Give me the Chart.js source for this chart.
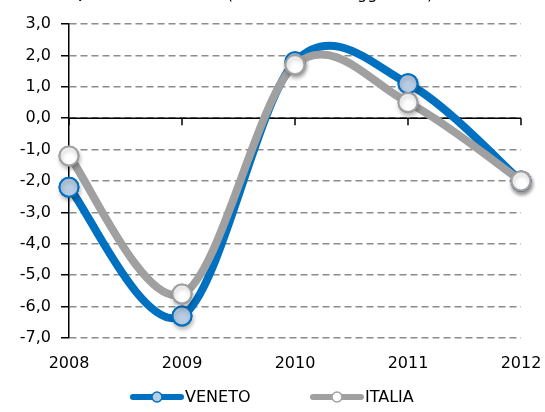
<!DOCTYPE html>
<html>
<head>
<meta charset="utf-8">
<script src="https://cdn.jsdelivr.net/npm/chart.js@4/dist/chart.umd.min.js"></script>
<style>
  html, body { margin: 0; padding: 0; background: #fff; }
  #wrap { width: 545px; height: 412px; position: relative; }
</style>
</head>
<body>
<div id="wrap"><canvas id="chart" width="545" height="412"></canvas></div>
<script>
// --- data ---
const years = ['2008', '2009', '2010', '2011', '2012'];
const veneto = [-2.2, -6.3, 1.8, 1.1, -2.0];
const italia = [-1.2, -5.6, 1.7, 0.5, -2.0];
const yTicks = [3, 2, 1, 0, -1, -2, -3, -4, -5, -6, -7];

const titleBold = 'Pil reale, Veneto e Italia ';
const titleNormal = '(var. % su dati aggiustati)';

const FONT = '"DejaVu Sans", Verdana, sans-serif';
const BLUE = '#0070C0';
const GREY = '#A0A0A0';

// Excel style smoothing (catmull-rom, 1/6 of the chord between neighbours)
const excelSmooth = {
    id: 'excelSmooth',
    beforeDatasetsDraw(chart) {
        chart.data.datasets.forEach((ds, di) => {
            const meta = chart.getDatasetMeta(di);
            const pts = meta.data;
            for (let i = 0; i < pts.length; i++) {
                const prev = pts[i - 1] || pts[i];
                const next = pts[i + 1] || pts[i];
                const dx = (next.x - prev.x) / 6;
                const dy = (next.y - prev.y) / 6;
                pts[i].cp1x = pts[i].x - dx;
                pts[i].cp1y = pts[i].y - dy;
                pts[i].cp2x = pts[i].x + dx;
                pts[i].cp2y = pts[i].y + dy;
            }
            meta.dataset._pointsUpdated = true;
        });
    },
    // markers again, with a soft shadow like the original
    afterDatasetDraw(chart, args) {
        const ctx = chart.ctx;
        ctx.save();
        ctx.shadowColor = 'rgba(0,0,0,0.25)';
        ctx.shadowBlur = 4;
        ctx.shadowOffsetX = 1;
        ctx.shadowOffsetY = 3;
        args.meta.data.forEach(p => p.draw(ctx));
        ctx.restore();
    }
};

// zero line with tick marks + partly cut title + line style legend
const extras = {
    id: 'extras',
    beforeDatasetsDraw(chart) {
        const ctx = chart.ctx;
        const x = chart.scales.x;
        const y = chart.scales.y;
        const y0 = y.getPixelForValue(0);
        ctx.save();
        ctx.strokeStyle = '#000';
        ctx.lineWidth = 1.5;
        ctx.setLineDash([]);
        ctx.beginPath();
        ctx.moveTo(chart.chartArea.left, y0);
        ctx.lineTo(chart.chartArea.right, y0);
        years.forEach((_, i) => {
            const px = x.getPixelForValue(i);
            ctx.moveTo(px, y0);
            ctx.lineTo(px, y0 + 7);
        });
        ctx.stroke();
        ctx.restore();
    },
    afterDraw(chart) {
        const ctx = chart.ctx;
        ctx.save();
        // title, mostly off the top edge
        ctx.fillStyle = '#000';
        ctx.textBaseline = 'alphabetic';
        ctx.font = 'bold 16px ' + FONT;
        ctx.fillText(titleBold, 4, -1);
        const w = ctx.measureText(titleBold).width;
        ctx.font = '16px ' + FONT;
        ctx.fillText(titleNormal, 4 + w, -1);

        // legend
        const items = [
            { label: 'VENETO', color: BLUE, fill: '#B8CCE4', x: 130 },
            { label: 'ITALIA', color: GREY, fill: '#FFFFFF', x: 310 }
        ];
        const ly = 397;
        items.forEach(it => {
            ctx.strokeStyle = it.color;
            ctx.lineWidth = 6;
            ctx.lineCap = 'round';
            ctx.beginPath();
            ctx.moveTo(it.x + 3, ly);
            ctx.lineTo(it.x + 51, ly);
            ctx.stroke();
            ctx.beginPath();
            ctx.arc(it.x + 27, ly, 5, 0, Math.PI * 2);
            ctx.fillStyle = it.fill;
            ctx.fill();
            ctx.lineWidth = 1.5;
            ctx.stroke();
            ctx.fillStyle = '#000';
            ctx.font = '16px ' + FONT;
            ctx.textBaseline = 'middle';
            ctx.fillText(it.label, it.x + 55, ly + 1);
        });
        ctx.restore();
    }
};

new Chart(document.getElementById('chart'), {
    type: 'line',
    data: {
        labels: years,
        datasets: [
            {
                label: 'VENETO',
                data: veneto,
                borderColor: BLUE,
                borderWidth: 8,
                tension: 0.4,
                pointRadius: 9.5,
                pointBorderWidth: 2,
                pointBackgroundColor: '#B8CCE4',
                pointBorderColor: BLUE,
                clip: false,
                order: 2
            },
            {
                label: 'ITALIA',
                data: italia,
                borderColor: GREY,
                borderWidth: 8,
                tension: 0.4,
                pointRadius: 9.5,
                pointBorderWidth: 2,
                pointBackgroundColor: '#FFFFFF',
                pointBorderColor: GREY,
                clip: false,
                order: 1
            }
        ]
    },
    options: {
        responsive: false,
        animation: false,
        layout: { padding: { left: 0, right: 24, top: 24, bottom: 0 } },
        scales: {
            x: {
                offset: false,
                grid: { display: false },
                border: { display: false },
                ticks: {
                    color: '#000',
                    font: { family: FONT, size: 16 },
                    padding: 8,
                    maxRotation: 0
                },
                afterFit: s => { s.height = 74; s.paddingLeft = 0; s.paddingRight = 0; }
            },
            y: {
                min: -7,
                max: 3,
                afterBuildTicks: s => { s.ticks = yTicks.map(v => ({ value: v })); },
                grid: {
                    color: '#8C8C8C',
                    lineWidth: 1.5,
                    tickColor: '#000',
                    tickLength: 8,
                    tickWidth: 1.5
                },
                border: { display: true, color: '#000', width: 1.5, dash: [7, 4] },
                ticks: {
                    color: '#000',
                    font: { family: FONT, size: 16 },
                    padding: 10,
                    callback: v => v.toFixed(1).replace('.', ',')
                },
                afterFit: s => { s.width = 69; }
            }
        },
        plugins: {
            legend: { display: false },
            tooltip: { enabled: false }
        }
    },
    plugins: [excelSmooth, extras]
});
</script>
</body>
</html>
